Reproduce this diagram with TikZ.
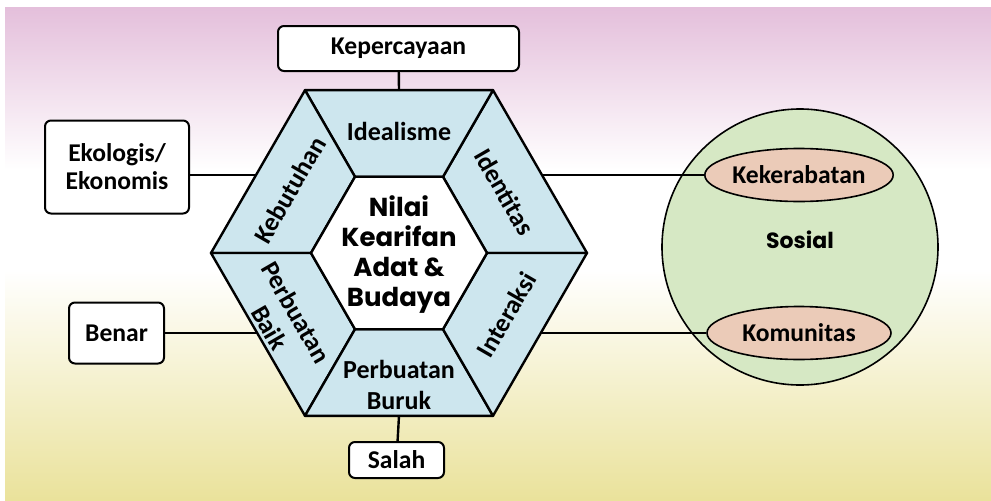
\documentclass[tikz,border=0pt]{standalone}
\usepackage{fontspec}
\setmainfont{Carlito}
\newfontfamily\headfont{Poppins}
\usepackage{tikz}
\usetikzlibrary{calc,positioning,shapes.geometric}
\definecolor{SegBlue}{HTML}{CDE6EE}
\definecolor{SosGreen}{HTML}{D6E8C4}
\definecolor{OvalPeach}{HTML}{EBCBB8}
\definecolor{BgPink}{HTML}{E4BFDB}
\definecolor{BgYellow}{HTML}{EAE29B}

\begin{document}
\begin{tikzpicture}[x=0.5pt,y=0.5pt,
  box/.style={draw, line width=1pt, rounded corners=3pt, fill=white,
              inner sep=0pt, align=center,
              font=\bfseries\fontsize{12.8}{14}\selectfont},
  seg/.style={align=center, inner sep=0pt,
              font=\bfseries\fontsize{13}{15.5}\selectfont},
  oval/.style={draw, ellipse, line width=0.8pt, fill=OvalPeach, inner sep=0pt,
               minimum width=92pt, minimum height=26.5pt,
               font=\bfseries\fontsize{12.8}{14}\selectfont},
  head/.style={font=\headfont\bfseries\fontsize{13}{15}\selectfont, align=center}]
  \useasboundingbox (0,0) rectangle (991,500);
  % background
  \fill[white] (0,0) rectangle (991,500);
  \shade[top color=BgPink, bottom color=white] (5,330) rectangle (991,493);
  \shade[top color=white, bottom color=BgYellow] (5,0) rectangle (991,230);
  % hexagon
  \coordinate (C) at (399,247);
  \foreach \a in {0,60,...,300} {
    \coordinate (o\a) at ($(C)+(\a:188)$);
    \coordinate (i\a) at ($(C)+(\a:88)$);
  }
  \foreach \a/\b in {0/60,60/120,120/180,180/240,240/300,300/0}
    \filldraw[fill=SegBlue, line width=1.2pt, line join=round]
      (i\a)--(o\a)--(o\b)--(i\b)--cycle;
  \filldraw[fill=white, line width=1.2pt, line join=round]
    (i0)--(i60)--(i120)--(i180)--(i240)--(i300)--cycle;
  \node[head] (nilai) at ($(C)+(0,-2)$) {Nilai\\Kearifan\\Adat \&\\Budaya};
  \node[seg] (ideal) at ($(C)+(90:122)$) {Idealisme};
  \node[seg,rotate=60] (butuh) at ($(C)+(150:126)$) {Kebutuhan};
  \node[seg,rotate=-60] (ident) at ($(C)+(30:122)$) {Identitas};
  \node[seg,rotate=60] (inter) at ($(C)+(330:124)$) {Interaksi};
  \node[seg,rotate=-60] (baik) at ($(C)+(210:134)$) {Perbuatan\\Baik};
  \node[seg] (buruk) at ($(C)+(270:132)$) {Perbuatan\\Buruk};
  % outer boxes
  \node[box, minimum width=120.5pt, minimum height=22.5pt] (kep) at (398.5,451.5) {Kepercayaan};
  \node[box, minimum width=72pt, minimum height=46.5pt] (eko) at (117,333) {Ekologis/\\Ekonomis};
  \node[box, minimum width=47.5pt, minimum height=30.5pt] (benar) at (116.5,167) {Benar};
  \node[box, minimum width=47.5pt, minimum height=18pt] (salah) at (396.5,40) {Salah};
  % social circle
  \node[draw, circle, line width=0.8pt, fill=SosGreen, minimum size=138pt] (sos) at (800,253) {};
  \node[head, font=\headfont\bfseries\fontsize{11}{13}\selectfont] (sosial) at (800,260) {Sosial};
  \node[oval] (kerabat) at (799,325) {Kekerabatan};
  \node[oval] (komun) at (799,167) {Komunitas};
  % connectors
  \coordinate (top) at ($(o60)!0.5!(o120)$);
  \coordinate (bot) at ($(o240)!0.5!(o300)$);
  \coordinate (lu) at ($(o180)!0.48!(o120)$);
  \coordinate (ll) at ($(o180)!0.49!(o240)$);
  \coordinate (ru) at ($(o0)!0.48!(o60)$);
  \coordinate (rl) at ($(o0)!0.49!(o300)$);
  \draw[line width=1.2pt] (kep) -- (top);
  \draw[line width=1.2pt] (salah) -- (bot);
  \draw[line width=1.2pt] (lu) -- (lu -| eko.east);
  \draw[line width=1.2pt] (ll) -- (ll -| benar.east);
  \draw[line width=1.2pt] (ru) -- (ru -| kerabat.west);
  \draw[line width=1.2pt] (rl) -- (rl -| komun.west);
\end{tikzpicture}
\end{document}
